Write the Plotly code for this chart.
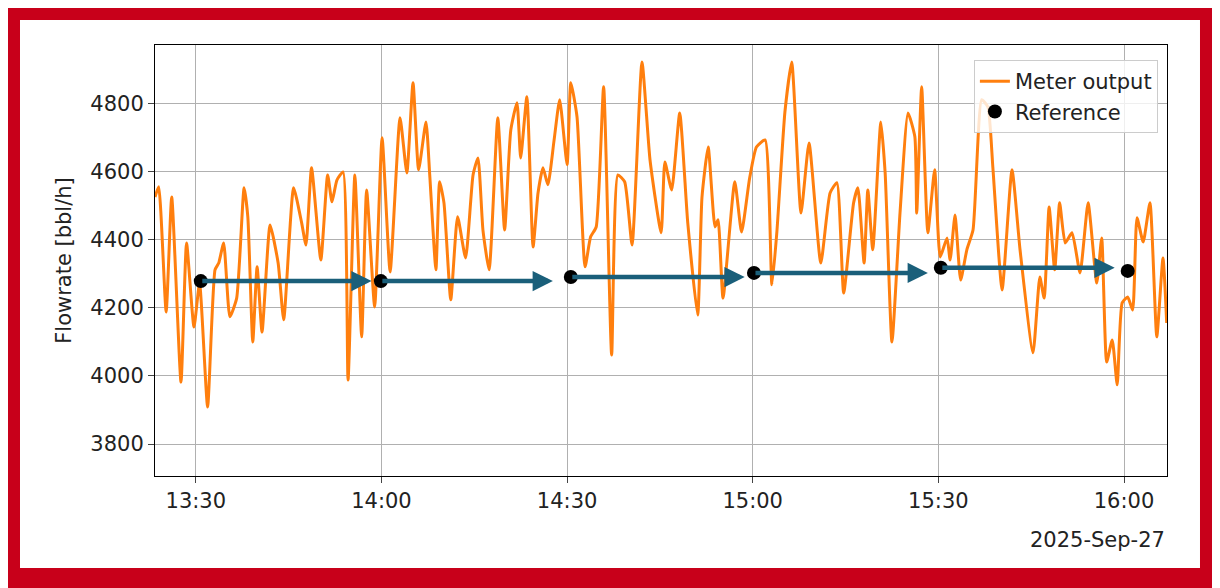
import pandas as pd
import plotly.graph_objects as go

# Meter output: minutes after 13:30 and flowrate [bbl/h]
meter_min = [-6.6, -6.0, -4.8, -3.9, -2.4, -1.5, -0.3, 0.6, 1.9, 3.1, 3.7, 4.5, 5.5, 6.6, 7.8, 8.4, 9.2, 9.9,
             10.7, 12.0, 13.3, 14.2, 15.8, 17.1, 17.8, 18.7, 20.2, 21.3, 22.0, 22.8, 23.8, 24.6, 25.7, 26.8,
             27.6, 28.9, 30.1, 31.4, 33.0, 34.1, 35.1, 36.0, 37.2, 37.8, 38.8, 39.4, 40.1, 41.2, 42.3, 43.6,
             44.8, 45.6, 46.4, 47.4, 48.8, 49.9, 50.9, 51.9, 52.5, 53.5, 54.5, 55.3, 56.1, 56.9, 57.9, 58.8,
             60.0, 60.6, 61.6, 62.9, 63.8, 64.7, 65.9, 67.2, 68.2, 69.3, 70.5, 72.1, 73.4, 75.2, 75.8, 76.9,
             78.2, 79.5, 81.1, 81.8, 82.8, 83.9, 84.4, 85.2, 87.1, 88.2, 89.5, 90.6, 92.0, 93.1, 93.9, 95.2,
             96.3, 97.8, 99.1, 101.0, 102.5, 103.6, 104.7, 106.3, 107.0, 108.0, 108.6, 109.4, 110.7, 111.4,
             112.5, 113.8, 115.1, 116.2, 116.5, 117.3, 118.3, 119.4, 120.3, 121.4, 121.9, 122.7, 123.6, 124.6,
             125.6, 127.0, 128.0, 128.8, 130.3, 131.9, 133.2, 135.3, 136.4, 137.1, 137.9, 138.8, 139.6, 140.5,
             141.6, 142.9, 144.2, 145.6, 146.4, 147.2, 148.1, 148.9, 149.7, 150.6, 151.4, 152.1, 153.1, 154.2,
             155.3, 156.3, 156.9]
meter_val = [4526, 4556, 4188, 4526, 3982, 4391, 4144, 4273, 3909, 4312, 4332, 4391, 4174, 4229, 4553, 4468,
             4100, 4321, 4129, 4444, 4332, 4165, 4553, 4450, 4385, 4612, 4341, 4591, 4512, 4576, 4600, 3988,
             4591, 4115, 4547, 4203, 4700, 4306, 4759, 4597, 4862, 4606, 4747, 4591, 4312, 4571, 4509, 4224,
             4468, 4347, 4591, 4641, 4429, 4312, 4759, 4429, 4723, 4803, 4641, 4821, 4379, 4538, 4612, 4562,
             4694, 4812, 4621, 4862, 4762, 4321, 4409, 4438, 4850, 4062, 4591, 4571, 4385, 4923, 4635, 4421,
             4629, 4547, 4773, 4450, 4179, 4526, 4673, 4438, 4459, 4229, 4571, 4423, 4582, 4673, 4694, 4268,
             4423, 4776, 4923, 4479, 4685, 4332, 4538, 4568, 4244, 4509, 4553, 4332, 4547, 4371, 4747, 4597,
             4100, 4479, 4773, 4703, 4479, 4850, 4421, 4606, 4350, 4406, 4341, 4473, 4282, 4371, 4429, 4812,
             4791, 4615, 4253, 4606, 4371, 4068, 4291, 4229, 4497, 4312, 4509, 4391, 4421, 4303, 4509, 4273,
             4406, 4041, 4106, 3974, 4215, 4232, 4194, 4465, 4394, 4509, 4115, 4347, 4156]

# Reference readings
ref_min = [0.8, 29.9, 60.6, 90.2, 120.4, 150.6]
ref_val = [4279, 4279, 4291, 4303, 4318, 4309]
# arrow tips (minutes after 13:30)
arrow_tip_min = [28.4, 57.7, 88.7, 118.3, 148.5]

t0 = pd.Timestamp("2025-09-27 13:30:00")
meter_t = t0 + pd.to_timedelta(meter_min, unit="m")
ref_t = t0 + pd.to_timedelta(ref_min, unit="m")
tip_t = t0 + pd.to_timedelta(arrow_tip_min, unit="m")

tick_vals = [t0 + pd.Timedelta(minutes=m) for m in [0, 30, 60, 90, 120, 150]]
tick_text = ["13:30", "14:00", "14:30", "15:00", "15:30", "16:00"]

fig = go.Figure()
fig.add_trace(go.Scatter(x=meter_t, y=meter_val, mode="lines", name="Meter output",
                         line=dict(color="#ff7f0e", width=3, shape="spline", smoothing=0.5)))
fig.add_trace(go.Scatter(x=ref_t, y=ref_val, mode="markers", name="Reference",
                         marker=dict(color="black", size=14)))

# arrows between reference points
for i in range(len(tip_t)):
    fig.add_annotation(x=tip_t[i], y=ref_val[i], ax=ref_t[i], ay=ref_val[i],
                       xref="x", yref="y", axref="x", ayref="y", text="", showarrow=True,
                       arrowhead=2, arrowsize=0.9, arrowwidth=4.5, arrowcolor="#1a5f7a")

fig.add_annotation(x=1.0, y=-0.148, xref="paper", yref="paper", xanchor="right", yanchor="middle",
                   text="2025-Sep-27", showarrow=False, font=dict(size=21, color="#222"))

# white card on red frame
fig.add_shape(type="rect", xref="paper", yref="paper", x0=-0.1334, x1=1.0326, y0=-0.2135, y1=1.058,
              fillcolor="white", line_width=0, layer="below")

axis_style = dict(showline=True, linecolor="black", linewidth=1, mirror=True, ticks="outside",
                  ticklen=6, gridcolor="#b0b0b0", gridwidth=1, zeroline=False,
                  tickfont=dict(size=21, color="#222"))
fig.update_xaxes(range=[t0 + pd.Timedelta(minutes=-6.6), t0 + pd.Timedelta(minutes=156.95)],
                 tickvals=tick_vals, ticktext=tick_text, **axis_style)
fig.update_yaxes(range=[3706, 4973], tickvals=[3800, 4000, 4200, 4400, 4600, 4800],
                 title=dict(text="Flowrate [bbl/h]", font=dict(size=21, color="#222"), standoff=12),
                 **axis_style)

fig.update_layout(
    width=1212, height=580,
    margin=dict(l=147, r=53, t=37, b=112),
    paper_bgcolor="#c8001a", plot_bgcolor="white",
    font=dict(family="DejaVu Sans"),
    showlegend=True,
    legend=dict(x=0.991, y=0.965, xanchor="right", yanchor="top", bgcolor="rgba(255,255,255,0.8)",
                bordercolor="#cccccc", borderwidth=1, font=dict(size=21, color="#222")),
)

fig.write_html("out.html")
